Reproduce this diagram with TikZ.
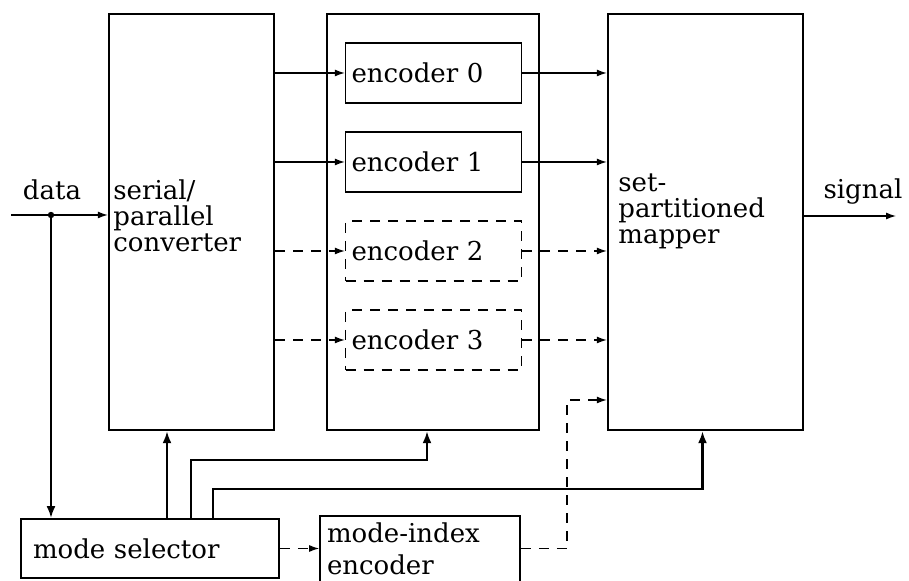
\documentclass[tikz,border=0pt]{standalone}
\usepackage{fontspec}
\setmainfont{DejaVu Serif}
\usetikzlibrary{arrows.meta, positioning}

\begin{document}
\begin{tikzpicture}[x=0.5pt, y=-0.5pt, font=\fontsize{13}{13}\selectfont,
  bigbox/.style={draw, line width=1.2pt, minimum height=208pt, inner sep=0pt},
  encbox/.style={draw, line width=0.7pt, text width=82pt, inner xsep=3pt, minimum height=30pt, align=left},
  optbox/.style={encbox, dash pattern=on 5pt off 4pt},
  lowbox/.style={draw, line width=0.9pt, align=left},
  sig/.style={-{Latex[length=5pt,width=3.5pt]}, line width=0.6pt},
  dsig/.style={sig, dash pattern=on 5pt off 4pt},
  ctrl/.style={-{Latex[length=6pt,width=4.5pt]}, line width=1.1pt},
  txt/.style={inner sep=0pt, align=left}]
  \useasboundingbox (0,0) rectangle (909,581);
  \node[bigbox, minimum width=82.5pt] (sp) at (191.5,222) {};
  \node[bigbox, minimum width=106pt] (encs) at (433,222) {};
  \node[bigbox, minimum width=97.5pt] (map) at (705.5,222) {};
  \node[txt, anchor=west] (sptxt) at (113,216) {serial/\\parallel\\converter};
  \node[txt, anchor=west] (maptxt) at (618,211) {set-\\partitioned\\mapper};
  \node[encbox] (e0) at (433.5,73) {encoder 0};
  \node[encbox] (e1) at (433.5,162) {encoder 1};
  \node[optbox] (e2) at (433.5,251) {encoder 2};
  \node[optbox] (e3) at (433.5,340) {encoder 3};
  \node[lowbox, text width=117pt, inner xsep=6pt, minimum height=29.5pt] (sel) at (150,548.5) {mode selector};
  \node[lowbox, text width=93pt, inner xsep=3.5pt, inner ysep=2pt, minimum height=33pt] (mie) at (420,549) {mode-index\\[3pt]encoder};
  % in and out
  \coordinate (din) at (11,215);
  \coordinate (split) at (51,215);
  \coordinate (sout) at (896,216);
  \node (dlbl) at (52,190) {data};
  \node (slbl) at (863,192) {signal};
  \draw[sig] (din) -- (sp.west |- din);
  \fill (split) circle[radius=1.6pt];
  \draw[ctrl] (split) -- (sel.north -| split);
  \draw[sig] (map.east |- sout) -- (sout);
  % encoders
  \foreach \e in {e0,e1} {
    \draw[sig] (sp.east |- \e) -- (\e);
    \draw[sig] (\e) -- (map.west |- \e);
  }
  \foreach \e in {e2,e3} {
    \draw[dsig] (sp.east |- \e) -- (\e);
    \draw[dsig] (\e) -- (map.west |- \e);
  }
  % mode control
  \coordinate (k1) at (167,500);
  \coordinate (k2) at (191,460);
  \coordinate (k3) at (213,489);
  \draw[ctrl] (sel.north -| k1) -- (sp.south -| k1);
  \draw[ctrl] (sel.north -| k2) -- (k2) -| ([xshift=-3pt]encs.south);
  \draw[ctrl] (sel.north -| k3) -- (k3) -| ([xshift=-1.5pt]map.south);
  \coordinate (mx) at (567,400);
  \draw[dsig] (sel.east) -- (mie.west |- sel.east);
  \draw[dsig] (mie.east |- sel.east) -| (mx) -- (map.west |- mx);
\end{tikzpicture}
\end{document}
